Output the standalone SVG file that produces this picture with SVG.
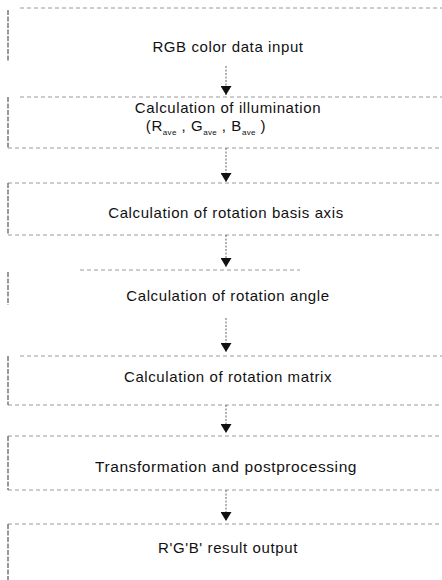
<svg xmlns="http://www.w3.org/2000/svg" width="442" height="580" viewBox="0 0 442 580">
<defs>
<style>
.edge-h{stroke:#9a9a9a;stroke-width:1;stroke-dasharray:4 3;fill:none}
.edge-v{stroke:#555;stroke-width:1.2;stroke-dasharray:5 1.5;fill:none}
.lbl{font-family:"Liberation Sans",Arial,sans-serif;font-size:15px;fill:#111;text-anchor:middle;letter-spacing:0.6px}
.sub{font-size:8px;letter-spacing:0.3px}
.conn{stroke:#666;stroke-width:1;stroke-dasharray:2 1.5;fill:none}
</style>
<marker id="ah" viewBox="0 0 9 11" refX="9" refY="5.5" markerWidth="9" markerHeight="11" markerUnits="userSpaceOnUse" orient="auto">
<path d="M0,0 L9,5.5 L0,11 Z" fill="#111"/>
</marker>
</defs>
<rect width="442" height="580" fill="#fff"/>
<g id="n1">
<path class="edge-h" d="M20,8 H442"/><path class="edge-v" d="M8,10 V62"/>
<text class="lbl" x="228" y="52">RGB color data input</text>
</g>
<g id="n2">
<path class="edge-h" d="M20,97 H442 M8,148 H442"/><path class="edge-v" d="M8,97 V148"/>
<text class="lbl" x="228" y="113">Calculation of illumination</text>
<text class="lbl" x="206" y="131">(R<tspan class="sub" dy="4">ave</tspan><tspan dy="-4"> , G</tspan><tspan class="sub" dy="4">ave</tspan><tspan dy="-4"> , B</tspan><tspan class="sub" dy="4">ave</tspan><tspan dy="-4"> )</tspan></text>
</g>
<g id="n3">
<path class="edge-h" d="M8,183 H442 M8,235 H442"/><path class="edge-v" d="M8,183 V235"/>
<text class="lbl" x="226" y="218">Calculation of rotation basis axis</text>
</g>
<g id="n4">
<path class="edge-h" d="M80,270 H300"/><path class="edge-v" d="M8,272 V305"/>
<text class="lbl" x="228" y="301">Calculation of rotation angle</text>
</g>
<g id="n5">
<path class="edge-h" d="M20,356 H442 M8,405 H442"/><path class="edge-v" d="M8,356 V405"/>
<text class="lbl" x="228" y="382">Calculation of rotation matrix</text>
</g>
<g id="n6">
<path class="edge-h" d="M8,436 H442 M8,490 H442"/><path class="edge-v" d="M8,436 V490"/>
<text class="lbl" x="226" y="472" style="font-size:15.5px">Transformation and postprocessing</text>
</g>
<g id="n7">
<path class="edge-h" d="M8,524 H442"/><path class="edge-v" d="M8,524 V580"/>
<text class="lbl" x="228" y="553">R'G'B' result output</text>
</g>
<g id="connectors">
<path class="conn" d="M226,66 V95" marker-end="url(#ah)"/>
<path class="conn" d="M226,148 V182" marker-end="url(#ah)"/>
<path class="conn" d="M226,235 V267" marker-end="url(#ah)"/>
<path class="conn" d="M226,318 V352" marker-end="url(#ah)"/>
<path class="conn" d="M226,405 V433" marker-end="url(#ah)"/>
<path class="conn" d="M226,490 V521" marker-end="url(#ah)"/>
</g>
</svg>
